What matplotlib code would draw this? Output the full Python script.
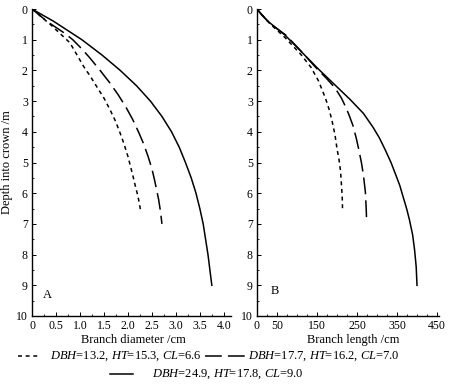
#!/usr/bin/env python3
"""Crown depth vs branch diameter / branch length for three sample trees."""

import matplotlib

matplotlib.use("Agg")
import matplotlib.pyplot as plt
from matplotlib.lines import Line2D
from matplotlib.ticker import MultipleLocator, FixedLocator, NullFormatter

plt.rcParams["font.family"] = ["Liberation Serif", "DejaVu Serif"]
plt.rcParams["mathtext.fontset"] = "custom"
plt.rcParams["mathtext.rm"] = "Liberation Serif"
plt.rcParams["mathtext.it"] = "Liberation Serif:italic"

# Panel A: branch diameter (cm) against depth into crown (m)
small_depth_a = [0, 0.5, 1.1, 1.5, 1.88, 2.2, 2.53, 2.9, 3.29, 3.65, 4.05, 4.4, 4.8, 5.1, 5.47, 5.8, 6.1, 6.6]
small_diam_a = [0, 0.38, 0.79, 0.94, 1.08, 1.22, 1.35, 1.5, 1.63, 1.74, 1.84, 1.92, 2.0, 2.05, 2.11, 2.16, 2.21, 2.27]
mid_depth_a = [0, 0.4, 0.8, 1.0, 1.3, 1.6, 2.0, 2.4, 2.8, 3.2, 3.6, 4.0, 4.4, 4.8, 5.2, 5.6, 6.2, 6.6, 7.0]
mid_diam_a = [0, 0.31, 0.69, 0.85, 1.04, 1.21, 1.42, 1.62, 1.8, 1.96, 2.1, 2.22, 2.33, 2.42, 2.5, 2.56, 2.64, 2.68, 2.71]
big_depth_a = [0, 0.4, 1.0, 1.5, 2.0, 2.5, 3.0, 3.5, 4.0, 4.5, 5.0, 5.5, 6.0, 6.5, 7.0, 7.5, 8.0, 8.5, 9.0]
big_diam_a = [0, 0.45, 1.04, 1.46, 1.84, 2.18, 2.47, 2.71, 2.91, 3.07, 3.2, 3.32, 3.42, 3.5, 3.57, 3.62, 3.67, 3.71, 3.75]

# Panel B: branch length (cm) against depth into crown (m)
small_depth_b = [0, 0.45, 0.93, 1.47, 1.9, 2.35, 2.9, 3.3, 3.67, 4.1, 4.55, 4.9, 5.3, 5.7, 6.1, 6.6]
small_len_b = [0, 30, 70, 109, 135, 154, 171, 181, 188, 195, 200, 205, 209, 211, 213, 214]
mid_depth_b = [0, 0.45, 0.85, 1.3, 1.95, 2.25, 2.57, 2.9, 3.2, 3.45, 3.8, 4.2, 4.55, 5.0, 5.4, 5.97, 6.5, 6.9]
mid_len_b = [0, 30, 72, 105, 150, 173, 195, 211, 222, 230, 240, 248, 254, 261, 266, 271, 273, 274]
big_depth_b = [0, 0.2, 0.45, 0.85, 1.3, 1.95, 2.45, 2.95, 3.4, 3.85, 4.2, 4.6, 5.0, 5.37, 5.75, 6.15, 6.5, 6.86, 7.35, 7.85, 8.4, 9.0]
big_len_b = [0, 12, 32, 70, 104, 153, 193, 233, 266, 290, 306, 321, 335, 346, 357, 366, 374, 381, 389, 394, 398, 400]

diam_ticks = [0, 0.5, 1.0, 1.5, 2.0, 2.5, 3.0, 3.5, 4.0]
len_ticks = [0, 50, 150, 250, 350, 450]
depth_ticks = list(range(0, 11))

tree_labels = [
    r"$\it{DBH}$=13.2, $\it{HT}$=15.3, $\it{CL}$=6.6",
    r"$\it{DBH}$=17.7, $\it{HT}$=16.2, $\it{CL}$=7.0",
    r"$\it{DBH}$=24.9, $\it{HT}$=17.8, $\it{CL}$=9.0",
]

STYLES = [
    dict(color="black", linewidth=1.1, linestyle=(0, (2.6, 2.4))),
    dict(color="black", linewidth=1.1, linestyle=(0, (11, 4))),
    dict(color="black", linewidth=1.1, linestyle="-"),
]

W, H = 453, 386
fig = plt.figure(figsize=(W / 100, H / 100), dpi=100)


def px_axes(left, top, right, bottom):
  return fig.add_axes([left / W, 1 - bottom / H, (right - left) / W, (bottom - top) / H])


def style_axes(ax):
  for side in ["top", "right"]:
    ax.spines[side].set_visible(False)
  for side in ["left", "bottom"]:
    ax.spines[side].set_linewidth(1.0)
  ax.set_ylim(10, 0)
  ax.yaxis.set_major_locator(FixedLocator(depth_ticks))
  ax.yaxis.set_minor_locator(MultipleLocator(0.5))
  ax.xaxis.set_minor_formatter(NullFormatter())
  ax.tick_params(axis="both", which="major", direction="in", length=3, width=0.7,
                 labelsize=8.5, pad=3)
  ax.tick_params(axis="both", which="minor", direction="in", length=1.5, width=0.6)
  ax.tick_params(axis="x", pad=3)


ax_a = px_axes(32, 9, 231, 316)
style_axes(ax_a)
ax_a.plot(small_diam_a, small_depth_a, **STYLES[0])
ax_a.plot(mid_diam_a, mid_depth_a, **STYLES[1])
ax_a.plot(big_diam_a, big_depth_a, **STYLES[2])
ax_a.set_xlim(0, 4.15)
ax_a.xaxis.set_major_locator(FixedLocator(diam_ticks))
ax_a.set_xticklabels([f"{t:.1f}" if t else "0" for t in diam_ticks])
ax_a.xaxis.set_minor_locator(MultipleLocator(0.25))
ax_a.set_xlabel("Branch diameter /cm", fontsize=9)
ax_a.xaxis.set_label_coords(0.51, -0.058)
ax_a.set_ylabel("Depth into crown /m", fontsize=9)
ax_a.yaxis.set_label_coords(-0.095, 0.5)
ax_a.text(0.33, 9.3, "A", fontsize=9, ha="center", va="center")

ax_b = px_axes(257, 9, 439, 316)
style_axes(ax_b)
ax_b.plot(small_len_b, small_depth_b, **STYLES[0])
ax_b.plot(mid_len_b, mid_depth_b, **STYLES[1])
ax_b.plot(big_len_b, big_depth_b, **STYLES[2])
ax_b.set_xlim(0, 455)
ax_b.xaxis.set_major_locator(FixedLocator(len_ticks))
ax_b.xaxis.set_minor_locator(MultipleLocator(25))
ax_b.set_xlabel("Branch length /cm", fontsize=9)
ax_b.xaxis.set_label_coords(0.53, -0.058)
ax_b.text(45, 9.2, "B", fontsize=9, ha="center", va="center")

# hand-placed legend under both panels
legend_rows = [
    (18, 38, 50, 356),
    (205, 245, 248, 356),
    (110, 133, 152, 374),
]
for (x0, x1, xt, y), style, label in zip(legend_rows, STYLES, tree_labels):
  yf = 1 - y / H
  fig.add_artist(Line2D([x0 / W, x1 / W], [yf, yf], transform=fig.transFigure, **style))
  fig.text(xt / W, yf, label, fontsize=9, ha="left", va="center")

fig.savefig("out.png", dpi=100)
